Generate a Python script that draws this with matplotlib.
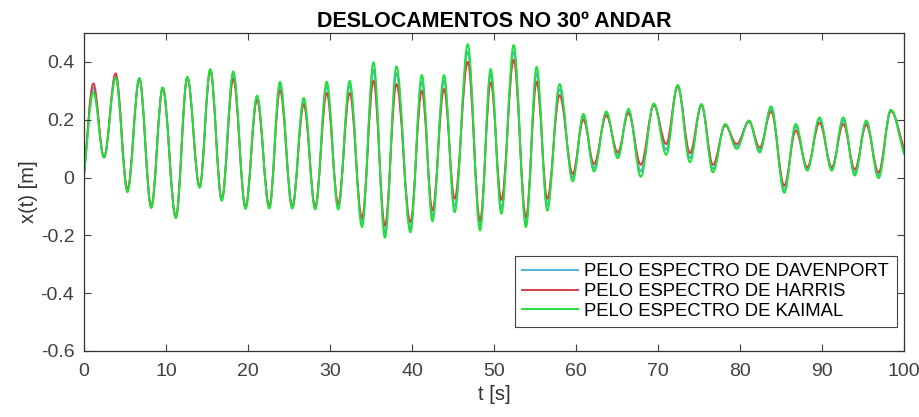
import numpy as np
import matplotlib
matplotlib.use("Agg")
import matplotlib.pyplot as plt
from matplotlib.path import Path
from matplotlib.patches import PathPatch
from matplotlib.lines import Line2D

plt.rcParams['font.family'] = ['Liberation Sans', 'DejaVu Sans']

# times of the peaks / troughs [s]
t = [0, 1.14, 2.44, 3.86, 5.3, 6.75, 8.2, 9.6, 11.2, 12.6, 14.1, 15.4, 16.8, 18.2, 19.7,
     21.1, 22.6, 23.9, 25.4, 26.8, 28.2, 29.6, 31.0, 32.4, 33.9, 35.3, 36.7, 38.1,
     39.8, 41.2, 42.5, 43.9, 45.2, 46.8, 48.3, 49.6, 50.9, 52.4, 53.9, 55.2, 56.5, 58.0,
     59.6, 60.9, 62.2, 63.7, 65.1, 66.4, 67.9, 69.5, 71.0, 72.4, 73.9, 75.3, 76.7, 78.2,
     79.6, 81.1, 82.4, 83.8, 85.4, 86.8, 88.2, 89.7, 91.2, 92.6, 94.0, 95.4, 96.9, 98.4, 100.0]

davenport = [0.01, 0.31, 0.07, 0.35, -0.045, 0.342, -0.103, 0.31, -0.138, 0.346, -0.033, 0.372, -0.078, 0.355, -0.104,
             0.277, -0.104, 0.32, -0.104, 0.265, -0.106, 0.315, -0.10, 0.318, -0.158, 0.372, -0.19, 0.36,
             -0.175, 0.332, -0.135, 0.335, -0.1, 0.435, -0.168, 0.355, -0.105, 0.435, -0.156, 0.36, -0.095, 0.305,
             0.0, 0.21, 0.033, 0.222, 0.076, 0.23, 0.022, 0.253, 0.096, 0.318, 0.068, 0.252, 0.03, 0.183,
             0.107, 0.195, 0.095, 0.238, -0.042, 0.175, 0.03, 0.2, 0.03, 0.198, 0.016, 0.19, 0.008, 0.232, 0.09]

harris = [0.01, 0.325, 0.07, 0.36, -0.04, 0.34, -0.10, 0.31, -0.135, 0.345, -0.03, 0.37, -0.075, 0.34, -0.10,
          0.269, -0.10, 0.302, -0.10, 0.252, -0.10, 0.292, -0.09, 0.292, -0.14, 0.334, -0.166, 0.323,
          -0.154, 0.30, -0.114, 0.306, -0.073, 0.40, -0.148, 0.329, -0.077, 0.407, -0.137, 0.331, -0.073, 0.285,
          0.013, 0.20, 0.047, 0.214, 0.087, 0.223, 0.044, 0.25, 0.116, 0.315, 0.085, 0.25, 0.044, 0.18,
          0.116, 0.193, 0.104, 0.228, -0.028, 0.162, 0.036, 0.189, 0.036, 0.185, 0.028, 0.182, 0.018, 0.23, 0.10]

kaimal = [0.01, 0.295, 0.07, 0.345, -0.05, 0.344, -0.105, 0.311, -0.14, 0.348, -0.035, 0.375, -0.08, 0.367, -0.108,
          0.283, -0.107, 0.331, -0.107, 0.275, -0.11, 0.331, -0.11, 0.334, -0.171, 0.398, -0.208, 0.384,
          -0.189, 0.354, -0.151, 0.354, -0.12, 0.461, -0.183, 0.375, -0.125, 0.458, -0.171, 0.383, -0.114, 0.323,
          -0.013, 0.22, 0.021, 0.228, 0.067, 0.237, 0.003, 0.256, 0.079, 0.32, 0.053, 0.254, 0.018, 0.185,
          0.099, 0.197, 0.087, 0.246, -0.053, 0.185, 0.024, 0.208, 0.024, 0.208, 0.007, 0.197, -0.002, 0.234, 0.08]

labels = ['PELO ESPECTRO DE DAVENPORT', 'PELO ESPECTRO DE HARRIS', 'PELO ESPECTRO DE KAIMAL']
colors = ['#4db3d6', '#d8404a', '#22e03a']
yticks = [-0.6, -0.4, -0.2, 0, 0.2, 0.4]
yticklabels = ['-0.6', '-0.4', '-0.2', '0', '0.2', '0.4']
xticks = [0, 10, 20, 30, 40, 50, 60, 70, 80, 90, 100]


def smooth_path(tt, vv):
    # bezier segments between the read extrema, flat tangent at each extremum
    verts = [(tt[0], vv[0])]
    codes = [Path.MOVETO]
    n = len(tt)
    for i in range(n - 1):
        t0, t1 = tt[i], tt[i + 1]
        v0, v1 = vv[i], vv[i + 1]
        dt = t1 - t0
        k = 0.36
        if i == 0:
            c1 = (t0 + dt / 3, v0 + (v1 - v0) / 3)
        else:
            c1 = (t0 + k * dt, v0)
        if i + 1 == n - 1:
            c2 = (t1 - dt / 3, v1 - (v1 - v0) / 3)
        else:
            c2 = (t1 - k * dt, v1)
        verts += [c1, c2, (t1, v1)]
        codes += [Path.CURVE4] * 3
    return Path(verts, codes)


fig = plt.figure(figsize=(9.2, 4.17), dpi=100)
ax = fig.add_axes([0.0913, 0.1583, 0.8913, 0.7626])

handles = []
for vals, c, lab in zip([davenport, harris, kaimal], colors, labels):
    ax.add_patch(PathPatch(smooth_path(t, vals), facecolor='none', edgecolor=c, lw=1.4))
    handles.append(Line2D([], [], color=c, lw=1.4, label=lab))

ax.set_xlim(0, 100)
ax.set_ylim(-0.6, 0.5)
ax.set_xticks(xticks)
ax.set_yticks(yticks)
ax.set_yticklabels(yticklabels)
ax.tick_params(direction='in', top=True, right=True, labelsize=14,
               colors='#404040', length=5, width=0.8)
ax.tick_params(axis='x', pad=9)
ax.tick_params(axis='y', pad=7)
for s in ax.spines.values():
    s.set_color('#333333')
    s.set_linewidth(0.9)

ax.set_title('DESLOCAMENTOS NO 30º ANDAR', fontsize=15.5, fontweight='bold', pad=4)
ax.set_xlabel('t [s]', fontsize=14.5, color='#333333', labelpad=3)
ax.set_ylabel('x(t) [m]', fontsize=14.5, color='#333333', labelpad=2)

leg = ax.legend(handles=handles, loc='lower right', bbox_to_anchor=(0.991, 0.075),
                fontsize=13.3, fancybox=False, framealpha=1, edgecolor='#444444',
                handlelength=3.0, handletextpad=0.37, borderpad=0.4, labelspacing=0.15,
                borderaxespad=0)
leg.get_frame().set_linewidth(0.8)

fig.savefig('out.png', dpi=100)
